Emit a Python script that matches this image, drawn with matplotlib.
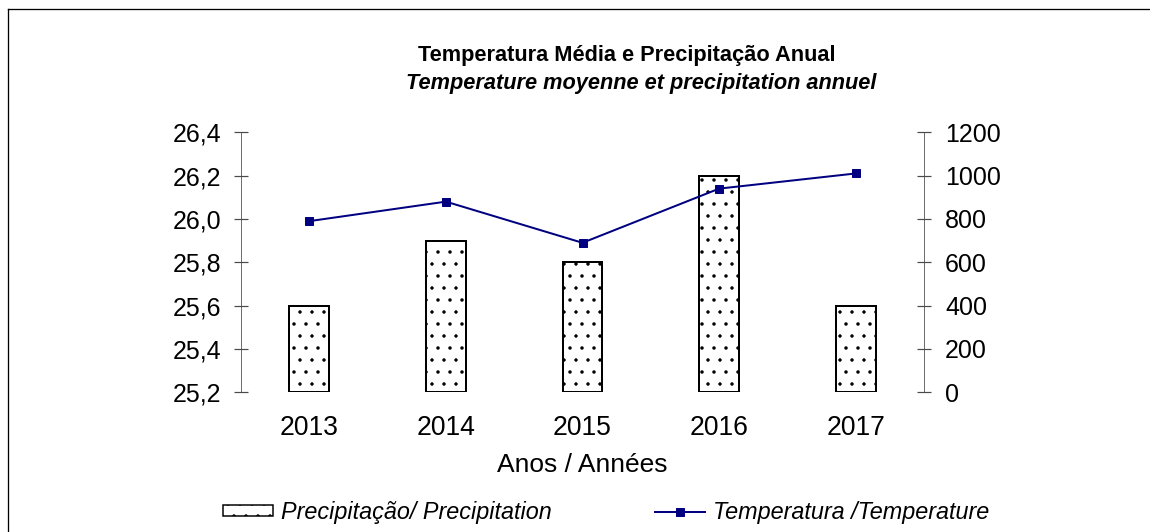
import matplotlib
matplotlib.use("Agg")
import matplotlib.pyplot as plt
from matplotlib.lines import Line2D
from matplotlib.patches import Patch
from matplotlib.ticker import FuncFormatter

years = ["2013", "2014", "2015", "2016", "2017"]
precipitation = [400, 700, 600, 1000, 400]
temperature = [25.99, 26.08, 25.89, 26.14, 26.21]

temp_ticks = [25.2, 25.4, 25.6, 25.8, 26.0, 26.2, 26.4]
prec_ticks = [0, 200, 400, 600, 800, 1000, 1200]

W, H = 1150, 532
DPI = 72  # 1 pt = 1 px here, also gives the right hatch dot spacing
AXIS_GRAY = "#4a4a4a"
NAVY = "#000080"

plt.rcParams['font.family'] = ['Liberation Sans', 'DejaVu Sans']
plt.rcParams['hatch.linewidth'] = 1.0
plt.rcParams['hatch.color'] = 'black'

fig = plt.figure(figsize=(W / DPI, H / DPI), dpi=DPI)
ax = fig.add_axes([241 / W, 1 - 392.3 / H, (924 - 241) / W, (392.3 - 132.3) / H])
ax2 = ax.twinx()

x = list(range(len(years)))

# precipitation bars on the right axis
ax2.bar(x, precipitation, width=0.29, color='white', edgecolor='black',
        linewidth=2, hatch='.')
ax2.set_ylim(0, 1200)
ax2.set_yticks(prec_ticks)

# temperature line on the left axis, drawn above the bars
ax.plot(x, temperature, color=NAVY, linewidth=2, marker='s', markersize=8.5)
ax.set_ylim(25.2, 26.4)
ax.set_yticks(temp_ticks)
ax.yaxis.set_major_formatter(FuncFormatter(lambda v, p: f"{v:.1f}".replace('.', ',')))
ax.set_zorder(ax2.get_zorder() + 1)
ax.patch.set_visible(False)

ax.set_xlim(-0.5, len(years) - 0.5)
ax.set_xticks(x, years)
ax.tick_params(axis='x', length=0, pad=23, labelsize=26.5)

for a in (ax, ax2):
    for s in a.spines.values():
        s.set_visible(False)
ax.spines['left'].set_visible(True)
ax.spines['left'].set_color(AXIS_GRAY)
ax2.spines['right'].set_visible(True)
ax2.spines['right'].set_color(AXIS_GRAY)
ax.tick_params(axis='y', direction='inout', length=14, width=1.2,
               color=AXIS_GRAY, pad=13, labelsize=25)
ax2.tick_params(axis='y', direction='inout', length=14, width=1.2,
                color=AXIS_GRAY, pad=14, labelsize=25)

# titles and axis label
fig.text(627 / W, 1 - 55 / H, "Temperatura Média e Precipitação Anual",
         ha='center', va='center', fontsize=21.8, fontweight='bold')
fig.text(641 / W, 1 - 84 / H, "Temperature moyenne et precipitation annuel",
         ha='center', va='center', fontsize=21.8, fontweight='bold', style='italic')
fig.text(582 / W, 1 - 465 / H, "Anos / Années", ha='center', va='center',
         fontsize=26.4)

# legend
leg_kw = dict(loc='center left', frameon=False, borderpad=0, borderaxespad=0,
              handlelength=50 / 23.4, handleheight=8 / 23.4, handletextpad=8 / 23.4,
              prop=dict(style='italic', size=23.4))
fig.legend(handles=[Patch(facecolor='white', edgecolor='black', hatch='.', linewidth=1.5)],
           labels=["Precipitação/ Precipitation"],
           bbox_to_anchor=(223 / W, 1 - 512 / H), **leg_kw)
fig.legend(handles=[Line2D([], [], color=NAVY, linewidth=2, marker='s', markersize=8.5)],
           labels=["Temperatura /Temperature"],
           bbox_to_anchor=(655 / W, 1 - 512 / H), **leg_kw)

# chart frame (only the top and left edges fall inside the picture)
fig.add_artist(Line2D([8 / W, 8 / W], [0, 1 - 9 / H], transform=fig.transFigure,
                      color='black', linewidth=1.3))
fig.add_artist(Line2D([8 / W, 1], [1 - 9 / H, 1 - 9 / H], transform=fig.transFigure,
                      color='black', linewidth=1.3))

fig.savefig('out.png', dpi=DPI)
